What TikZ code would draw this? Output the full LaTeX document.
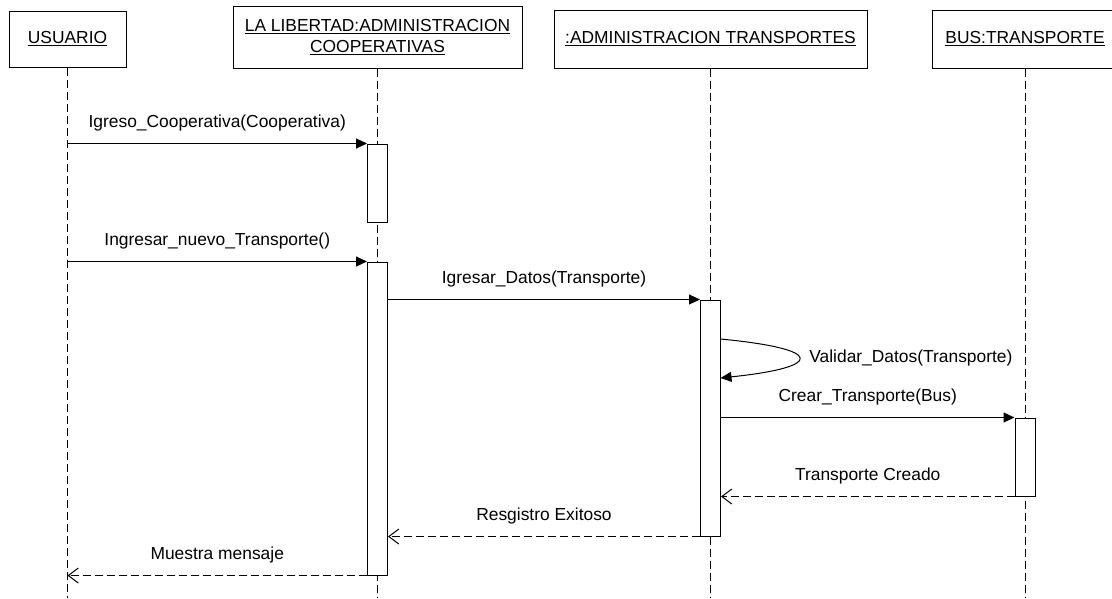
\documentclass[tikz,border=0pt]{standalone}
\usepackage{fontspec}
\setmainfont{Liberation Sans}
\usetikzlibrary{arrows.meta}
\begin{document}
\begin{tikzpicture}[x=1pt, y=-1pt, line width=1pt,
  font=\fontsize{17.4}{20.5}\selectfont,
  obj/.style={draw, rectangle, inner sep=0pt, align=center},
  act/.style={draw, rectangle, fill=white, inner sep=0pt, minimum width=20pt},
  life/.style={dash pattern=on 8pt off 4pt},
  call/.style={-{Triangle[length=11pt, width=10pt]}},
  back/.style={dash pattern=on 8pt off 4pt, -{Straight Barb[length=10pt, width=15pt]}},
  lbl/.style={midway, above=12pt, inner sep=0pt}]
\useasboundingbox (0,0) rectangle (1112,598);

\node [obj, minimum width=117pt, minimum height=56pt] (usr) at (67.5,39) {\underline{USUARIO}};
\node [obj, minimum width=289pt, minimum height=62pt] (lib) at (377.5,37) {\underline{LA LIBERTAD:ADMINISTRACION}\\\underline{COOPERATIVAS}};
\node [obj, minimum width=313pt, minimum height=58pt] (adm) at (710.5,39) {\underline{:ADMINISTRACION TRANSPORTES}};
\node [obj, minimum width=186pt, minimum height=58pt] (bus) at (1025,39) {\underline{BUS:TRANSPORTE}};

\coordinate (usr-end) at (67.5,598);
\coordinate (lib-end) at (377.5,598);
\coordinate (adm-end) at (710.5,598);
\coordinate (bus-end) at (1025,598);
\draw [life] (usr) -- (usr-end);
\draw [life] (lib) -- (lib-end);
\draw [life] (adm) -- (adm-end);
\draw [life] (bus) -- (bus-end);

\node [act, minimum height=78pt] (la1) at (377.5,183) {};
\node [act, minimum height=313pt] (la2) at (377.5,418.5) {};
\node [act, minimum height=236pt] (ad1) at (710.5,418) {};
\node [act, minimum height=78pt] (bu1) at (1025,457) {};

\draw [call] (usr |- la1.north) -- (la1.north west) node [lbl] {Igreso\_Cooperativa(Cooperativa)};
\draw [call] (usr |- la2.north) -- (la2.north west) node [lbl] {Ingresar\_nuevo\_Transporte()};
\draw [call] (la2.east |- ad1.north) -- (ad1.north west) node [lbl] {Igresar\_Datos(Transporte)};

\coordinate (s1) at (720.5,339);
\coordinate (s2) at (720.5,378);
\draw [call] (s1) .. controls (825,349) and (825,367) .. (s2) node [pos=0.5, right=10pt, inner sep=0pt] {Validar\_Datos(Transporte)};

\draw [call] (ad1.east |- bu1.north) -- (bu1.north west) node [lbl] {Crear\_Transporte(Bus)};
\draw [back] (bu1.south west) -- (ad1.east |- bu1.south) node [lbl] {Transporte Creado};
\draw [back] (ad1.south west) -- (la2.east |- ad1.south) node [lbl] {Resgistro Exitoso};
\draw [back] (la2.south west) -- (usr |- la2.south) node [lbl] {Muestra mensaje};
\end{tikzpicture}
\end{document}
